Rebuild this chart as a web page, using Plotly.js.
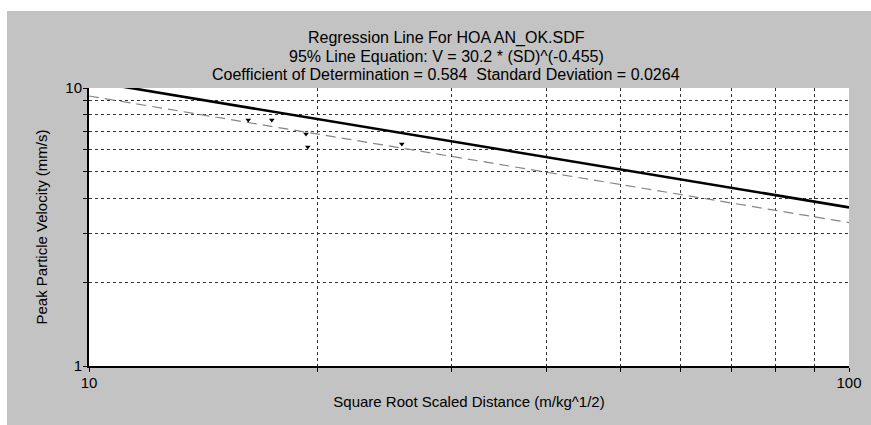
<!DOCTYPE html>
<html>
<head>
<meta charset="utf-8">
<script src="https://cdn.plot.ly/plotly-3.0.1.min.js"></script>
<style>
html,body{margin:0;padding:0;background:#ffffff;overflow:hidden;}
#chart{position:absolute;left:7px;top:11px;width:864px;height:414px;}
</style>
</head>
<body>
<div id="chart"></div>
<script>
// Measured points (Square Root Scaled Distance, PPV mm/s)
const pointSD  = [16.2, 17.4, 19.3, 19.4, 25.8];
const pointPPV = [7.67, 7.67, 6.83, 6.13, 6.29];

// 95% line: V = 30.2 * SD^(-0.455), read at the axis ends
const line95SD  = [10, 100];
const line95PPV = [10.59, 3.72];

// Best-fit (dashed) line read at the axis ends
const lineFitSD  = [10, 100];
const lineFitPPV = [9.36, 3.28];

const xTickVals = [10, 20, 30, 40, 50, 60, 70, 80, 90, 100];
const xTickText = ['10', '', '', '', '', '', '', '', '', '100'];
const yTickVals = [1, 2, 3, 4, 5, 6, 7, 8, 9, 10];
const yTickText = ['1', '', '', '', '', '', '', '', '', '10'];

const titleLines = [
  'Regression Line For HOA AN_OK.SDF',
  '95% Line Equation: V = 30.2 * (SD)^(-0.455)',
  'Coefficient of Determination = 0.584  Standard Deviation = 0.0264'
];

const font = 'Arial, "Liberation Sans", sans-serif';

const traces = [
  {
    x: lineFitSD, y: lineFitPPV, mode: 'lines', type: 'scatter',
    line: {color: '#858585', width: 1.2, dash: '10px,6px'},
    hoverinfo: 'skip', cliponaxis: true
  },
  {
    x: line95SD, y: line95PPV, mode: 'lines', type: 'scatter',
    line: {color: '#000000', width: 2.6},
    hoverinfo: 'skip', cliponaxis: true
  },
  {
    x: pointSD, y: pointPPV, mode: 'markers', type: 'scatter',
    marker: {symbol: 'triangle-down', size: 5, color: '#000000'}
  }
];

const axisCommon = {
  showline: true, linecolor: '#000000', linewidth: 2,
  mirror: false,
  ticks: 'outside', ticklen: 4, tickcolor: '#000000', tickwidth: 1,
  showgrid: true, gridcolor: '#333333', gridwidth: 1, griddash: 'dot',
  tickfont: {family: font, size: 15, color: '#000000'},
  ticklabelstandoff: -2,
  fixedrange: true
};

// Title lines as centred annotations (paper coords relative to plot area)
const plotTop = 77, plotH = 278;
const lineCentres = [27, 45, 63];
const annotations = titleLines.map((t, i) => ({
  text: t, showarrow: false,
  xref: 'paper', x: 0.47, xanchor: 'center',
  yref: 'paper', y: 1 + (plotTop - lineCentres[i]) / plotH, yanchor: 'middle',
  font: {family: font, size: 16, color: '#000000'}
}));

const layout = {
  width: 864, height: 414,
  margin: {l: 82, r: 22, t: 77, b: 59},
  paper_bgcolor: '#c3c3c3',
  plot_bgcolor: '#ffffff',
  showlegend: false,
  font: {family: font, color: '#000000'},
  annotations: annotations,
  xaxis: Object.assign({}, axisCommon, {
    type: 'log', range: [1, 2],
    tickmode: 'array', tickvals: xTickVals, ticktext: xTickText,
    title: {text: 'Square Root Scaled Distance (m/kg^1/2)', font: {family: font, size: 15, color: '#000000'}, standoff: 6}
  }),
  yaxis: Object.assign({}, axisCommon, {
    type: 'log', range: [0, 1],
    tickmode: 'array', tickvals: yTickVals, ticktext: yTickText,
    title: {text: 'Peak Particle Velocity (mm/s)', font: {family: font, size: 15, color: '#000000'}, standoff: 14}
  })
};

Plotly.newPlot('chart', traces, layout, {displayModeBar: false, staticPlot: true});
</script>
</body>
</html>
